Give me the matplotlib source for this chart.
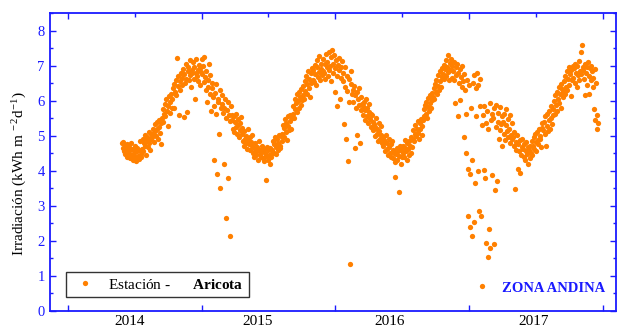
import numpy as np
import matplotlib
matplotlib.use('Agg')
import matplotlib.pyplot as plt
from matplotlib.ticker import MultipleLocator, FixedLocator

# fuentes tipo Times
plt.rcParams['font.family'] = ['Liberation Serif', 'DejaVu Serif']
plt.rcParams['mathtext.fontset'] = 'custom'
plt.rcParams['mathtext.rm'] = 'Liberation Serif'
plt.rcParams['mathtext.bf'] = 'Liberation Serif:bold'
plt.rcParams['mathtext.it'] = 'Liberation Serif:italic'

# irradiación diaria (kWh m-2 d-1), estación Aricota
irradiacion = [
    4.78, 4.65, 4.82, 4.55, 4.70, 4.48, 4.62, 4.75, 4.40, 4.58, 4.69, 4.52, 4.35, 4.61, 4.80,
    4.45, 4.30, 4.62, 4.50, 4.38, 4.72, 4.28, 4.55, 4.66, 4.42, 4.33, 4.58, 4.85, 4.47, 4.40,
    4.62, 4.90, 4.55, 4.78, 5.02, 4.70, 4.45, 4.88, 4.95, 4.68, 5.10, 4.80, 4.58, 4.92, 5.05,
    4.95, 5.20, 5.05, 4.82, 5.32, 5.12, 4.98, 5.40, 5.18, 4.90, 5.25, 5.45, 5.08, 4.75, 5.35,
    5.50, 5.75, 5.38, 5.62, 5.90, 5.55, 6.05, 5.70, 5.28, 5.85, 6.12, 5.66, 5.95, 6.20, 5.80,
    6.05, 6.35, 6.48, 5.80, 6.25, 6.60, 6.15, 7.22, 6.42, 6.70, 5.60, 6.55, 6.30, 6.80, 6.45,
    6.65, 6.90, 5.52, 6.75, 6.50, 7.05, 6.62, 5.68, 6.85, 6.95, 6.58, 7.15, 6.72, 6.40, 6.88,
    6.80, 7.10, 6.62, 6.95, 6.05, 6.78, 7.18, 6.70, 6.88, 6.55, 7.02, 6.92, 6.45, 6.82, 7.20,
    6.75, 6.98, 6.52, 7.25, 6.68, 6.30, 6.85, 5.95, 6.60, 6.40, 7.05, 6.20, 6.72, 5.70, 6.50,
    6.35, 6.10, 5.85, 4.30, 6.22, 6.48, 5.62, 3.90, 6.05, 5.95, 5.05, 6.30, 3.50, 5.78, 6.15,
    5.90, 5.65, 4.20, 5.80, 6.05, 5.50, 2.65, 5.72, 5.95, 3.80, 5.58, 5.42, 2.15, 5.85, 5.60,
    5.45, 5.20, 5.55, 5.10, 5.38, 5.62, 5.25, 5.05, 5.48, 5.30, 4.95, 5.35, 5.15, 5.52, 5.22,
    5.05, 4.85, 4.70, 5.12, 4.92, 4.78, 5.00, 4.62, 4.88, 5.18, 4.75, 4.95, 4.58, 4.82, 5.02,
    4.72, 4.50, 4.65, 4.38, 4.80, 4.55, 4.45, 4.68, 4.32, 4.60, 4.85, 4.48, 4.58, 4.40, 4.70,
    4.55, 4.35, 4.62, 4.28, 4.50, 3.75, 4.42, 4.68, 4.30, 4.58, 4.45, 4.20, 4.65, 4.38, 4.52,
    4.60, 4.85, 4.52, 4.75, 4.95, 4.48, 4.68, 4.90, 4.58, 4.80, 5.02, 4.65, 4.72, 4.98, 4.85,
    5.05, 5.30, 4.95, 5.22, 5.48, 5.10, 5.35, 4.88, 5.28, 5.55, 5.15, 5.42, 5.60, 5.20, 5.50,
    5.62, 5.85, 5.50, 6.05, 5.75, 5.92, 6.18, 5.68, 5.98, 6.25, 5.80, 6.10, 5.88, 6.32, 6.02,
    6.15, 6.42, 6.05, 6.55, 6.28, 6.70, 6.20, 6.48, 6.85, 6.35, 6.62, 6.10, 6.78, 6.50, 6.92,
    6.60, 6.88, 6.52, 7.02, 6.75, 6.45, 6.95, 7.15, 6.68, 6.82, 7.28, 6.58, 6.90, 7.05, 6.72,
    6.85, 7.20, 6.78, 7.05, 6.62, 7.32, 6.95, 7.10, 6.70, 7.38, 6.88, 7.00, 6.55, 7.25, 7.44,
    7.05, 6.80, 7.30, 6.92, 6.25, 7.15, 6.70, 5.85, 7.02, 6.88, 7.22, 6.05, 6.95, 6.65, 7.12,
    6.80, 6.55, 5.32, 6.95, 6.40, 4.90, 6.70, 6.28, 4.28, 6.62, 5.95, 1.35, 6.48, 6.85, 6.20,
    6.30, 5.95, 6.42, 4.65, 6.15, 5.80, 6.25, 5.02, 6.05, 5.88, 6.35, 4.80, 5.72, 6.10, 5.90,
    5.85, 5.60, 5.95, 5.45, 5.72, 6.05, 5.55, 5.80, 5.35, 5.68, 5.90, 5.48, 5.62, 5.25, 5.58,
    5.40, 5.15, 5.32, 4.98, 5.25, 5.50, 5.05, 5.20, 4.85, 5.35, 5.12, 4.92, 5.28, 5.02, 4.80,
    4.95, 4.70, 4.88, 4.55, 4.82, 5.02, 4.62, 4.78, 4.45, 4.90, 4.68, 4.50, 4.75, 4.40, 4.85,
    4.60, 4.35, 4.52, 4.25, 3.82, 4.48, 4.65, 4.30, 4.55, 3.40, 4.42, 4.70, 4.20, 4.58, 4.38,
    4.50, 4.72, 4.40, 4.65, 4.88, 4.55, 4.32, 4.78, 4.62, 4.45, 4.85, 4.70, 4.52, 4.95, 4.68,
    4.90, 5.15, 4.85, 5.05, 5.30, 4.98, 5.20, 5.42, 5.08, 4.92, 5.35, 5.18, 5.48, 5.02, 5.28,
    5.45, 5.75, 5.55, 5.88, 5.62, 5.95, 5.50, 5.82, 6.08, 5.70, 5.92, 6.15, 5.78, 6.02, 6.22,
    6.10, 6.35, 6.05, 6.48, 6.25, 6.60, 6.18, 6.42, 6.72, 6.30, 6.55, 6.85, 6.40, 6.68, 6.92,
    6.75, 7.02, 6.62, 6.90, 7.15, 6.70, 6.95, 7.30, 6.82, 6.58, 7.08, 6.88, 7.20, 6.65, 6.98,
    6.85, 7.10, 6.60, 5.92, 6.95, 6.72, 7.05, 5.55, 6.80, 6.50, 6.90, 6.02, 6.68, 7.00, 6.40,
    6.55, 6.75, 4.95, 6.30, 5.62, 4.50, 6.60, 4.05, 2.72, 6.45, 3.90, 2.40, 5.80, 4.30, 2.15,
    6.50, 2.55, 6.72, 3.65, 6.35, 5.55, 6.80, 4.00, 6.45, 2.85, 5.85, 6.62, 2.70, 5.30, 0.72,
    5.60, 4.02, 5.85, 3.80, 5.35, 1.94, 5.70, 1.54, 5.20, 2.34, 5.92, 1.79, 5.45, 3.87, 5.62,
    5.50, 1.90, 5.78, 3.45, 5.25, 5.88, 3.72, 5.40, 5.65, 4.90, 5.15, 5.82, 5.32, 4.70, 5.55,
    5.40, 5.05, 5.62, 4.88, 5.30, 5.75, 5.12, 4.95, 5.48, 5.20, 4.80, 5.58, 5.02, 5.35, 4.92,
    4.95, 4.70, 5.10, 3.48, 4.82, 4.60, 5.02, 4.05, 4.75, 4.55, 3.95, 4.88, 4.45, 4.68, 4.92,
    4.62, 4.40, 4.75, 4.30, 4.55, 4.82, 4.48, 4.20, 4.68, 4.58, 4.35, 4.72, 4.50, 4.85, 4.45,
    4.70, 4.95, 4.62, 5.05, 4.82, 4.55, 5.10, 4.88, 4.75, 5.18, 4.92, 5.00, 4.68, 5.22, 5.35,
    5.15, 5.40, 5.05, 5.55, 4.70, 5.28, 5.62, 5.12, 5.45, 5.70, 5.20, 5.50, 5.85, 5.32, 5.60,
    5.75, 6.00, 5.62, 6.15, 5.88, 6.25, 5.70, 6.05, 6.38, 5.92, 6.20, 6.48, 5.80, 6.32, 6.10,
    6.25, 6.55, 6.18, 6.70, 6.40, 6.85, 6.30, 6.62, 6.95, 6.45, 6.75, 6.12, 6.88, 6.58, 7.00,
    6.65, 6.92, 6.50, 7.05, 6.78, 6.40, 6.98, 6.72, 7.12, 6.60, 6.85, 7.40, 6.75, 7.58, 6.95,
    6.88, 6.62, 7.05, 6.15, 6.80, 6.95, 6.45, 7.10, 6.70, 6.20, 6.92, 6.58, 7.00, 6.85, 6.40,
    6.65, 5.75, 6.90, 5.45, 6.50, 5.20, 5.60, 5.35,
]

anios = ['2014', '2015', '2016', '2017']
pos_anios = [12, 203, 401, 616]   # índice de día bajo el que va cada año

azul = '#1a1aff'
naranja = '#ff8000'

dia = np.arange(len(irradiacion))

fig = plt.figure(figsize=(6.19, 3.29), dpi=100)
ax = fig.add_axes([0.080, 0.0547, 0.9152, 0.9058])

ax.plot(dia, irradiacion, 'o', color=naranja, ms=3.8, mec='none',
        label='Estación -      $\\mathbf{Aricota}$')

ax.set_xlim(-108.5, 739)
ax.set_ylim(0, 8.5)

# ejes en azul
for s in ax.spines.values():
    s.set_color(azul)
    s.set_linewidth(1.3)

ax.yaxis.set_major_locator(MultipleLocator(1))
ax.yaxis.set_minor_locator(MultipleLocator(0.5))
ax.xaxis.set_major_locator(FixedLocator([-81, 119, 319, 519, 719]))
ax.xaxis.set_minor_locator(FixedLocator([19, 219, 419, 619]))
ax.set_xticklabels([])

ax.tick_params(axis='y', which='both', direction='in', left=True, right=True,
               color=azul, labelcolor=azul, labelsize=10.5, width=1)
ax.tick_params(axis='y', which='major', length=4.5)
ax.tick_params(axis='y', which='minor', length=2.5)
ax.tick_params(axis='x', which='major', direction='in', top=True, bottom=True,
               length=4, width=1, color=azul)
ax.tick_params(axis='x', which='minor', direction='in', top=True, bottom=False,
               length=3, width=1, color=azul)

# etiquetas de año (pegadas al borde inferior)
for a, p in zip(anios, pos_anios):
    ax.annotate(a, xy=(p, 0), xycoords=('data', 'axes fraction'),
                xytext=(0, -12.0), textcoords='offset points',
                ha='center', va='bottom', fontsize=11, color='black')

ax.set_ylabel('Irradiación (kWh m$^{\\ -2}$d$^{-1}$)', fontsize=11)
ax.yaxis.set_label_coords(-0.036, 0.46)

leg = ax.legend(loc='lower left', bbox_to_anchor=(0.029, 0.047), borderaxespad=0,
                fontsize=11, frameon=True, fancybox=False, handletextpad=0.6,
                handlelength=1.8, borderpad=0.35, markerscale=1.0)
leg.get_frame().set_edgecolor('black')
leg.get_frame().set_linewidth(1.0)

ax.text(0.890, 0.075, 'ZONA ANDINA', transform=ax.transAxes, ha='center',
        va='center', fontsize=10.5, fontweight='bold', color=azul)

fig.savefig('out.png', dpi=100)
